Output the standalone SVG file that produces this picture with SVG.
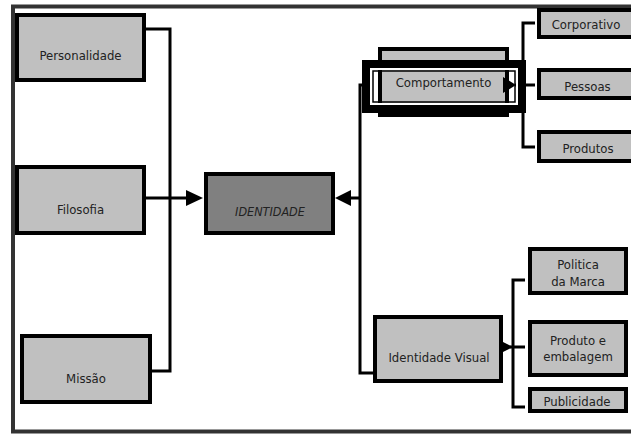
<svg xmlns="http://www.w3.org/2000/svg" width="631" height="434" viewBox="0 0 631 434">
  <style>
    .box { fill: #c0c0c0; stroke: #000; stroke-width: 4; }
    .dark { fill: #808080; stroke: #000; stroke-width: 4; }
    .lbl { font-family: 'DejaVu Sans Condensed', 'DejaVu Sans', sans-serif; font-stretch: condensed; font-size: 13px; fill: #222; text-anchor: middle; }
    .ital { font-style: italic; font-size: 12.5px; }
    .wire { fill: none; stroke: #000; stroke-width: 3; }
    .head { fill: #000; }
  </style>

  <rect width="631" height="434" fill="#fff"/>
  <!-- page frame -->
  <rect x="13" y="6.5" width="700" height="425" fill="none" stroke="#333" stroke-width="4"/>

  <!-- connectors -->
  <g id="connectors">
    <path class="wire" d="M146 29 H170 V371 H152"/>
    <path class="wire" d="M146 198 H188"/>
    <polygon class="head" points="186,190 203,198 186,206"/>
    <path class="wire" d="M373 373 H360 V85 H366"/>
    <path class="wire" d="M360 198 H348"/>
    <polygon class="head" points="351,190 335,198 351,206"/>
    <path class="wire" d="M515 85 H535"/>
    <path class="wire" d="M535 23 H523 V147 H535"/>
    <path class="wire" d="M510 347 H525"/>
    <path class="wire" d="M525 280 H513 V407 H525"/>
    <polygon class="head" points="497,339 513,347 497,355"/>
  </g>

  <g id="personalidade">
    <rect class="box" x="17" y="15" width="127" height="65"/>
    <text class="lbl" x="80.5" y="60">Personalidade</text>
  </g>
  <g id="filosofia">
    <rect class="box" x="17" y="167" width="127" height="66"/>
    <text class="lbl" x="80.5" y="214">Filosofia</text>
  </g>
  <g id="missao">
    <rect class="box" x="22" y="336" width="128" height="66"/>
    <text class="lbl" x="86" y="383">Missão</text>
  </g>
  <g id="identidade">
    <rect class="dark" x="206" y="174" width="127" height="59"/>
    <text class="lbl ital" x="270" y="216">IDENTIDADE</text>
  </g>

  <g id="comportamento">
    <rect class="box" x="380" y="49" width="127" height="66" stroke-width="3.5"/>
    <text class="lbl" x="443.5" y="87">Comportamento</text>
    <!-- selection frame drawn over the box -->
    <rect x="366" y="64" width="156" height="45" fill="none" stroke="#000" stroke-width="8"/>
    <rect x="371" y="69" width="146" height="35" fill="none" stroke="#fff" stroke-width="2"/>
    <rect x="373" y="71" width="142" height="31" fill="none" stroke="#000" stroke-width="1.5"/>
    <polygon class="head" points="503,77 516,85 503,93"/>
  </g>

  <g id="corporativo">
    <rect class="box" x="539" y="10" width="110" height="27"/>
    <text class="lbl" x="586" y="29">Corporativo</text>
  </g>
  <g id="pessoas">
    <rect class="box" x="539" y="70" width="110" height="28"/>
    <text class="lbl" x="587.5" y="91">Pessoas</text>
  </g>
  <g id="produtos">
    <rect class="box" x="539" y="132" width="110" height="29"/>
    <text class="lbl" x="588" y="153">Produtos</text>
  </g>

  <g id="identidade-visual">
    <rect class="box" x="375" y="317" width="126" height="64"/>
    <text class="lbl" x="439" y="362">Identidade Visual</text>
  </g>
  <g id="politica">
    <rect class="box" x="530" y="249" width="96" height="44"/>
    <text class="lbl" x="578" y="269">Politica</text>
    <text class="lbl" x="578" y="286">da Marca</text>
  </g>
  <g id="produto-embalagem">
    <rect class="box" x="530" y="322" width="96" height="53"/>
    <text class="lbl" x="578" y="345">Produto e</text>
    <text class="lbl" x="578" y="361">embalagem</text>
  </g>
  <g id="publicidade">
    <rect class="box" x="530" y="389" width="96" height="22"/>
    <text class="lbl" x="577" y="406">Publicidade</text>
  </g>
</svg>
